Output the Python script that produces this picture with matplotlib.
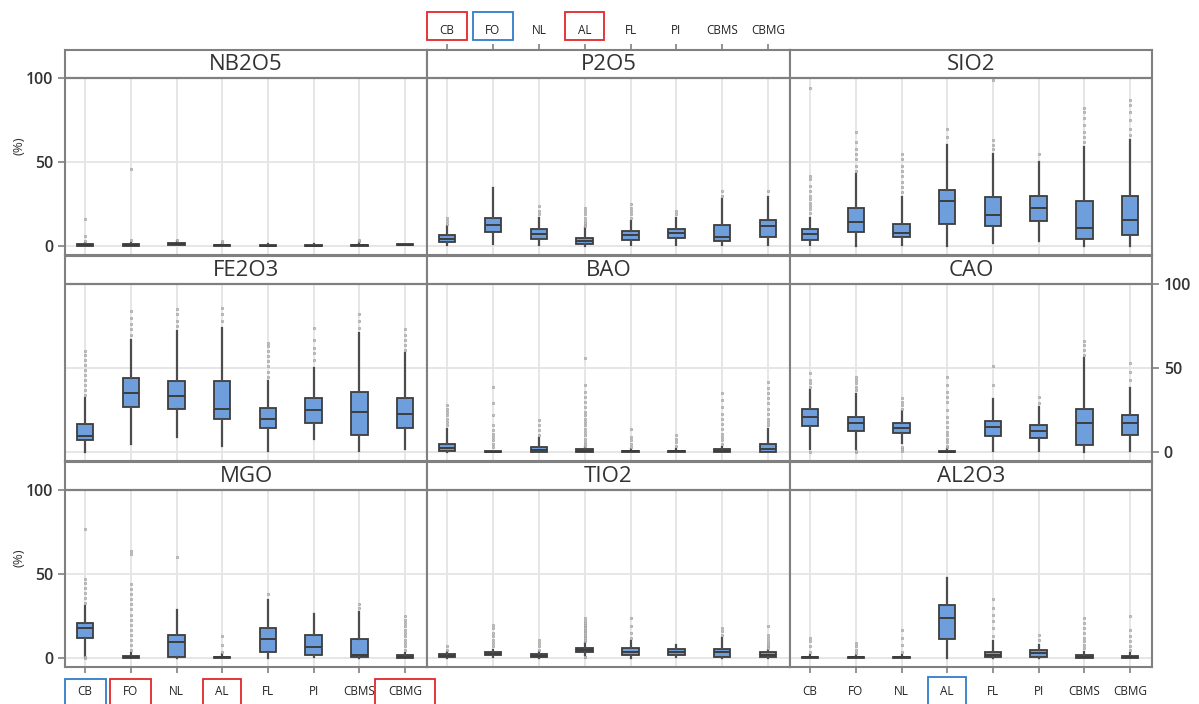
import matplotlib
matplotlib.use('Agg')
import matplotlib.pyplot as plt
from matplotlib.patches import Rectangle
from matplotlib import transforms

plt.rcParams['font.family'] = ['Open Sans', 'DejaVu Sans']

cats = ['CB', 'FO', 'NL', 'AL', 'FL', 'PI', 'CBMS', 'CBMG']
oxides = ['NB2O5', 'P2O5', 'SIO2', 'FE2O3', 'BAO', 'CAO', 'MGO', 'TIO2', 'AL2O3']

# (whisker low, q1, median, q3, whisker high) per category
NB2O5_box = [(0, 0, 0.5, 1.2, 2), (0, 0, 0.5, 1.2, 2), (0.5, 1, 1.5, 2, 3), (0, 0, 0.5, 1, 1.5),
             (0, 0, 0.4, 0.9, 1.5), (0, 0, 0.4, 0.9, 1.5), (0, 0, 0.5, 1, 2), (0.5, 0.8, 1, 1.2, 1.5)]
NB2O5_out = [[3, 6, 16], [4, 46], [4], [2, 3], [], [], [3, 4], []]

P2O5_box = [(0.5, 2.4, 4.2, 6.4, 12.3), (1.4, 8.7, 12.9, 16.9, 34.7), (1, 4.6, 7.4, 10.5, 17),
            (0, 1.6, 3.4, 5.2, 11.3), (0.5, 4, 6.9, 9.3, 15.3), (1, 4.8, 7.6, 10.5, 17),
            (0.5, 3.4, 5.5, 12.5, 28.2), (1, 5.8, 12.1, 15.7, 29.2)]
P2O5_out = [[13, 15, 17], [], [19, 21, 24], [12, 13, 14, 15, 17, 19, 21, 23],
            [17, 19, 21, 23, 25], [19, 21], [30, 33], [33]]

SIO2_box = [(0.5, 3.6, 7, 10, 17), (0, 8.6, 14.4, 22.7, 43), (0.5, 5.6, 8, 13.2, 29),
            (0, 13, 27, 33.3, 60), (2, 12, 18.6, 29, 55), (3, 15, 22.8, 30, 50),
            (0, 4.6, 11, 27, 59), (0, 6.6, 15.4, 30, 63)]
SIO2_out = [[20, 22, 24, 26, 28, 30, 33, 36, 40, 42, 94], [45, 48, 52, 55, 58, 62, 68],
            [32, 35, 38, 42, 45, 48, 52, 55], [65, 70], [58, 60, 63, 99], [55],
            [62, 65, 68, 72, 76, 80, 82], [66, 70, 75, 80, 84, 87]]

FE2O3_box = [(0, 7, 9.5, 17, 32.4), (5, 27, 35.4, 44, 67), (9, 26, 33.4, 42.4, 72),
             (3.6, 19.5, 26, 42.4, 74), (0.5, 14.5, 20, 26.5, 42.4), (8, 17.5, 25, 32.4, 50),
             (0.5, 10, 24, 36, 71), (2, 14.5, 23, 32.4, 59)]
FE2O3_out = [[34, 37, 40, 43, 46, 49, 52, 55, 58, 60], [70, 73, 76, 80, 84], [75, 78, 82, 85],
             [78, 82, 86], [45, 48, 51, 54, 57, 60, 63, 65], [55, 59, 62, 67, 74],
             [74, 78, 82], [61, 64, 67, 70, 73]]

BAO_box = [(0, 0.8, 2.8, 5, 14), (0, 0, 0, 0.5, 1), (0, 0, 1.3, 3, 8.7), (0, 0, 1, 2, 3),
           (0, 0, 0.5, 1, 2), (0, 0, 0.5, 1, 2), (0, 0, 1, 2, 3), (0, 0, 2, 5, 14)]
BAO_out = [[16, 18, 20, 22, 24, 26, 28], [3, 5, 7, 9, 11, 13, 16, 22, 29, 39], [10, 13, 16, 19],
           [4, 5, 6, 8, 10, 12, 14, 16, 18, 20, 22, 24, 27, 30, 33, 36, 40, 56],
           [3, 5, 7, 9, 14], [4, 6, 8, 10], [5, 7, 9, 11, 14, 17, 20, 23, 27, 31, 35],
           [16, 18, 20, 23, 26, 29, 32, 35, 38, 42]]

CAO_box = [(2, 15.4, 20.7, 25.5, 37), (2, 12.8, 17.2, 21, 34.6), (5.6, 11.5, 14.4, 17.2, 24.3),
           (0, 0, 0, 1, 2), (0.5, 9.5, 14.8, 18.4, 31.6), (0.5, 8.5, 12.4, 16.2, 26.7),
           (0, 4.4, 17.2, 25.7, 56), (0.5, 10.5, 17.2, 22.3, 38)]
CAO_out = [[0, 39, 41, 43, 47], [0, 0.5, 37, 39, 41, 43, 45], [1, 2, 3, 26, 28, 30, 32],
           [3, 4, 6, 8, 10, 12, 15, 18, 21, 25, 30, 33, 36, 40, 45], [40, 51], [29, 33],
           [58, 61, 64, 66], [43, 48, 53]]

MGO_box = [(1, 12.3, 17.9, 20.8, 30.8), (0, 0, 1, 1.5, 3), (0, 0.6, 9.9, 13.9, 28.4),
           (0, 0, 0.5, 1, 2.5), (0, 4, 11.5, 17.9, 34.7), (0.5, 2, 6.4, 13.9, 26.4),
           (0, 0.6, 1.8, 11.5, 27.4), (0, 0, 1, 2, 3)]
MGO_out = [[0, 0.5, 33, 36, 39, 42, 45, 47, 77],
           [5, 8, 11, 14, 17, 20, 23, 26, 29, 32, 35, 38, 41, 44, 62, 64], [60], [4, 8, 13],
           [38], [], [30, 32], [5, 7, 9, 11, 13, 15, 17, 19, 21, 23, 25]]

TIO2_box = [(0, 0.5, 1.5, 2.5, 3.5), (0.5, 2, 2.5, 3.5, 5), (0, 0.5, 1.5, 2.5, 3.5),
            (2, 4, 5, 6.1, 9), (0, 2, 4, 6, 10), (0.5, 2, 3.8, 5.5, 8), (0, 0.6, 3.5, 5.5, 12),
            (0, 0.6, 2, 3.6, 5)]
TIO2_out = [[5, 7], [7, 9, 11, 13, 15, 18, 20], [5, 7, 9, 11],
            [0.5, 1, 10, 11, 12, 13, 14, 15, 16, 17, 18, 19, 20, 21, 22, 24], [12, 15, 19, 24],
            [], [14, 16, 18], [6, 7, 8, 9, 10, 12, 14, 19]]

AL2O3_box = [(0, 0, 0.5, 1, 2), (0, 0, 0.5, 1, 2), (0, 0, 0.5, 1, 2), (0, 11.3, 23.8, 31.5, 47.6),
             (0, 1, 2, 4, 10), (0, 1, 3, 5, 8), (0, 0, 1, 2, 4), (0, 0, 0.7, 1.5, 3)]
AL2O3_out = [[4, 7, 10, 12], [3, 5, 7, 9], [4, 8, 12, 17], [], [13, 18, 22, 26, 30, 35], [11, 14],
             [6, 8, 10, 12, 15, 18, 21, 24], [5, 7, 10, 13, 17, 25]]

boxes = [NB2O5_box, P2O5_box, SIO2_box, FE2O3_box, BAO_box, CAO_box, MGO_box, TIO2_box, AL2O3_box]
outs = [NB2O5_out, P2O5_out, SIO2_out, FE2O3_out, BAO_out, CAO_out, MGO_out, TIO2_out, AL2O3_out]

W, H = 1199, 704
col_x = [65, 427, 790]
col_w = [362, 363, 362]
row_top = [50, 256, 462]
row_h = 205
YMIN, YTOP, STRIP = -5.2, 100, 16.7
frame_c = '#808080'
text_c = '#333333'

fig = plt.figure(figsize=(W / 100, H / 100), dpi=100)
pos = list(range(1, len(cats) + 1))
axes = {}

for k, name in enumerate(oxides):
    r, c = divmod(k, 3)
    ax = fig.add_axes([col_x[c] / W, 1 - (row_top[r] + row_h) / H, col_w[c] / W, row_h / H])
    axes[(r, c)] = ax
    ax.set_xlim(0.56, 8.48)
    ax.set_ylim(YMIN, YTOP + STRIP)
    ax.vlines(pos, YMIN, YTOP, color='#e4e4e4', lw=1.3, zorder=0)
    ax.hlines([0, 50], 0.56, 8.48, color='#e4e4e4', lw=1.3, zorder=0)
    ax.axhline(YTOP, color=frame_c, lw=1.6, zorder=3)
    ax.text(4.52, YTOP + STRIP / 2, name, ha='center', va='center', fontsize=16, color=text_c)

    stats = []
    for (lo, q1, med, q3, hi), fl in zip(boxes[k], outs[k]):
        stats.append(dict(whislo=lo, q1=q1, med=med, q3=q3, whishi=hi, fliers=fl))
    ax.bxp(stats, positions=pos, widths=0.36, patch_artist=True, showcaps=False,
           boxprops=dict(facecolor='#6e9fdc', edgecolor='#3d3d3d', linewidth=1.3),
           medianprops=dict(color='#3d3d3d', linewidth=1.4),
           whiskerprops=dict(color='#4d4d4d', linewidth=1.6),
           flierprops=dict(marker='o', markersize=1.8, markerfacecolor='#c4c4c4',
                           markeredgecolor='#9a9a9a', markeredgewidth=0.4))

    for s in ax.spines.values():
        s.set_color(frame_c)
        s.set_linewidth(1.5)
    ax.set_xticks(pos)
    ax.set_xticklabels(cats)
    ax.set_yticks([0, 50, 100])
    ax.set_yticklabels(['0', '50', '100'], fontweight='semibold')
    ax.tick_params(axis='x', bottom=False, labelbottom=False, top=False, labeltop=False,
                   length=4, width=1.2, color=frame_c, labelsize=8.5, labelcolor='#222222')
    ax.tick_params(axis='y', left=False, labelleft=False, right=False, labelright=False,
                   length=5, width=1.2, color=frame_c, labelsize=11.5, labelcolor=text_c)

# axis labels as in the reference layout
axes[(0, 1)].tick_params(axis='x', top=True, labeltop=True, pad=5)
axes[(2, 0)].tick_params(axis='x', bottom=True, labelbottom=True, pad=9)
axes[(2, 2)].tick_params(axis='x', bottom=True, labelbottom=True, pad=9)
for r in (0, 2):
    axes[(r, 0)].tick_params(axis='y', left=True, labelleft=True)
    axes[(r, 0)].set_ylabel('(%)', fontsize=9.5, color=text_c)
    axes[(r, 0)].yaxis.set_label_coords(-0.11, (60 - YMIN) / (YTOP + STRIP - YMIN))
axes[(1, 2)].tick_params(axis='y', right=True, labelright=True)


def mark(ax, idx, color, y_top, h, w):
    tr = transforms.blended_transform_factory(ax.transData, fig.transFigure)
    fig.add_artist(Rectangle((pos[idx] - w / 2, 1 - (y_top + h) / H), w, h / H,
                             transform=tr, fill=False, edgecolor=color, lw=1.3))


red, blue = '#e3262b', '#2f7dc6'
top = axes[(0, 1)]
mark(top, 0, red, 12, 28, 0.88)
mark(top, 1, blue, 12, 28, 0.88)
mark(top, 3, red, 12, 28, 0.84)
bl = axes[(2, 0)]
mark(bl, 0, blue, 679, 30, 0.9)
mark(bl, 1, red, 679, 30, 0.9)
mark(bl, 3, red, 679, 30, 0.84)
mark(bl, 7, red, 679, 30, 1.3)
br = axes[(2, 2)]
mark(br, 3, blue, 677, 30, 0.84)

fig.savefig('out.png', dpi=100)
